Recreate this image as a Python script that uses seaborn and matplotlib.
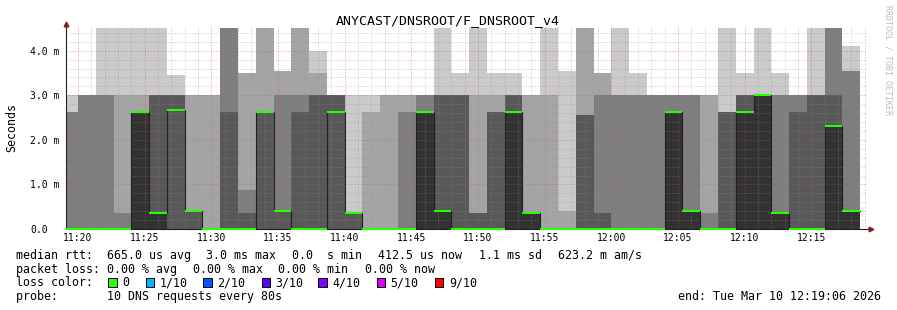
import numpy as np
import pandas as pd
import matplotlib
matplotlib.use("Agg")
import matplotlib.pyplot as plt
import seaborn as sns
from matplotlib.patches import Rectangle

# ---------------- data ----------------
# 80 s RRD bins (bin start times); first bin starts 11:18:40, last ends 12:18:40
bin_start = pd.date_range("2026-03-10 11:18:40", periods=45, freq="80s")

# ten sorted DNS response times per bin, in ms (rank 1 = fastest)
ping1 = [0, 0, 0, 0, 0, 0, 0, 0, 0, 0, 0, 0, 0, 0, 0, 0, 0, 0, 0, 0, 0, 0, 0,
         0, 0, 0, 0, 0, 0, 0, 0, 0, 0, 0, 0, 0, 0, 0, 0, 0, 0, 0, 0, 0, 0]
ping2 = [0, 0, 0, 0, 0, 0, 0, 0, 0, 0, 0, 0, 0, 0, 0, 0, 0, 0, 0, 0, 0, 0, 0,
         0, 0, 0, 0, 0, 0, 0, 0, 0, 0, 0, 0, 0, 0, 0, 0, 0, 0, 0, 0, 0, 0]
ping3 = [0, 0, 0, 0, 0, 0, 0, 0, 0, 0, 0, 0, 0, 0, 0, 0, 0, 0, 0, 0, 0, 0, 0,
         0, 0, 0, 0, 0, 0, 0, 0, 0, 0, 0, 0, 0, 0, 0, 0, 0, 0, 0, 0, 0, 0]
ping4 = [0, 0, 0, 0, 0, 0, 0, 0, 0, 0, 0, 0, 0, 0, 0, 0, 0, 0, 0, 0, 0, 0, 0,
         0, 0, 0, 0, 0, 0, 0, 0, 0, 0, 0, 0, 0, 0, 0, 0, 0, 0, 0, 0, 0, 0]
ping5 = [0, 0, 0, 0, 0, 0, 2.66, 0.41, 0, 0,
         0, 2.62, 0.41, 0, 0, 2.62, 0.37, 0, 0, 0,
         0, 0, 0, 0, 0, 0, 0, 0, 0, 0,
         0, 0, 0, 0, 0, 0, 0, 0, 0, 0,
         0, 0, 0, 0, 0]
ping6 = [0, 0, 0, 0, 2.62, 0.37, 2.66, 0.41, 0, 0,
         0, 2.62, 0.41, 0, 0, 2.62, 0.37, 0, 0, 0,
         2.62, 0.41, 0, 0, 0, 2.62, 0.37, 0, 0, 0,
         0, 0, 0, 0, 2.62, 0.41, 0, 0, 2.62, 3.0,
         0.37, 0, 0, 2.32, 0.41]
ping7 = [0, 0, 0, 0, 2.62, 3.0, 3.0, 0.41, 0, 2.62,
         0.37, 2.62, 0.41, 2.62, 3.0, 3.0, 0.37, 0, 0, 0,
         2.62, 3.0, 3.0, 0.37, 2.62, 3.0, 0.37, 0, 0, 2.55,
         0.37, 0, 0, 0, 2.62, 0.41, 0, 2.62, 3.0, 3.0,
         0.37, 2.62, 3.0, 3.0, 0.41]
ping8 = [2.62, 3.0, 3.0, 0.37, 2.62, 3.0, 3.0, 0.41, 0, 4.5,
         0.87, 2.62, 3.0, 3.0, 3.0, 3.0, 0.37, 0, 0, 2.62,
         3.0, 3.0, 3.0, 0.37, 2.62, 3.0, 0.37, 0, 0, 2.55,
         3.0, 3.0, 3.0, 3.0, 3.0, 3.0, 0.37, 2.62, 3.0, 3.0,
         3.0, 3.0, 3.0, 4.5, 3.54]
ping9 = [2.62, 3.0, 3.0, 3.0, 3.0, 3.0, 3.0, 3.0, 3.0, 4.5,
         3.5, 4.5, 3.54, 4.5, 3.5, 3.0, 0.37, 2.62, 3.0, 3.0,
         3.0, 3.0, 3.0, 3.0, 3.0, 3.0, 3.0, 3.0, 0.41, 4.5,
         3.5, 3.0, 3.0, 3.0, 3.0, 3.0, 3.0, 2.62, 3.0, 3.0,
         3.0, 3.0, 3.0, 4.5, 3.54]
ping10 = [3.0, 3.0, 4.5, 4.5, 4.5, 4.5, 3.45, 3.0, 3.0, 4.5,
          3.5, 4.5, 3.54, 4.5, 4.0, 3.0, 3.0, 3.0, 3.0, 3.0,
          3.0, 4.5, 3.5, 4.5, 3.5, 3.5, 3.0, 4.5, 3.54, 4.5,
          3.5, 4.5, 3.5, 3.0, 3.0, 3.0, 3.0, 4.5, 3.5, 4.5,
          3.5, 3.0, 4.5, 4.5, 4.1]
median_rtt = ping6   # smokeping stores the upper median

x_tick_labels = ["11:20", "11:25", "11:30", "11:35", "11:40", "11:45",
                 "11:50", "11:55", "12:00", "12:05", "12:10", "12:15"]
y_tick_labels = ["0.0", "1.0 m", "2.0 m", "3.0 m", "4.0 m"]

loss_labels = ["0", "1/10", "2/10", "3/10", "4/10", "5/10", "9/10"]
loss_colors = ["#26ff00", "#00b8ff", "#0059ff", "#5e00ff", "#7e00ff", "#dd00ff", "#ff0000"]

# ---------------- style ----------------
sns.set_theme(style="white")
plt.rcParams["font.family"] = ["DejaVu Sans Mono", "DejaVu Sans"]

W, H = 897, 310
fig = plt.figure(figsize=(W / 100, H / 100), dpi=100)
fig.patch.set_facecolor("white")
X0, X1, YB, YT = 66, 866, 229, 26
ax = fig.add_axes([X0 / W, (H - YB) / H, (X1 - X0) / W, (YB - YT) / H])
ax.set_facecolor("white")


def secs(t):
    return t.hour * 3600 + t.minute * 60 + t.second


starts = np.array([secs(t) for t in bin_start], dtype=float)
edges = np.append(starts, starts[-1] + 80)
t_start = secs(pd.Timestamp("2026-03-10 11:19:06"))
t_end = secs(pd.Timestamp("2026-03-10 12:19:06"))

ymax = 4.555
ax.set_xlim(t_start, t_end)
ax.set_ylim(0, ymax)

pings = [ping1, ping2, ping3, ping4, ping5, ping6, ping7, ping8, ping9, ping10]
smoke_cols = ["#cacaca", "#a4a4a4", "#7e7e7e", "#585858", "#323232"]


def ext(a):
    a = np.asarray(a, dtype=float)
    return np.append(a, a[-1])


for k in range(5):
    lo = ext(pings[k])
    hi = ext(pings[9 - k])
    ax.fill_between(edges, lo, hi, step="post", color=smoke_cols[k],
                    linewidth=0, zorder=1 + k * 0.1)

# median line
med = ext(median_rtt)
sns.lineplot(x=edges, y=med, drawstyle="steps-post", color="#202020",
             linewidth=0.8, ax=ax, zorder=4, legend=False)
sw = ymax / 203.0
ax.fill_between(edges, med - sw, med + sw, step="post", color=loss_colors[0],
                linewidth=0, zorder=5)

# ticks and grid
ax.set_xticks(starts[1::1][::1][0:1].tolist() if False else
              [secs(pd.Timestamp("2026-03-10 " + s + ":00")) for s in x_tick_labels])
ax.set_xticklabels(x_tick_labels)
minor_x = [m for m in np.arange(secs(pd.Timestamp("2026-03-10 11:20:00")), t_end, 60)]
ax.set_xticks(minor_x, minor=True)
ax.set_yticks([0, 1, 2, 3, 4])
ax.set_yticklabels(y_tick_labels)
ax.set_yticks([v / 5 for v in range(1, 23)], minor=True)

ax.set_axisbelow(False)
ax.grid(which="minor", color=(0.56, 0.56, 0.56), alpha=0.55, linewidth=0.72,
        linestyle=(0, (1, 2)))
ax.grid(which="major", color=(0.87, 0.31, 0.31), alpha=0.6, linewidth=0.72,
        linestyle=(0, (1, 2)))

ax.tick_params(axis="both", which="major", length=2.2, width=0.72, color="#303030",
               labelsize=7, labelcolor="black", direction="out")
ax.tick_params(axis="both", which="minor", length=1.4, width=0.72, color="#303030",
               direction="out")
ax.tick_params(axis="x", which="major", pad=0.9)
ax.tick_params(axis="y", which="major", pad=(X0 - 30) * 0.72 - 2.2)
for lbl in ax.get_yticklabels():
    lbl.set_horizontalalignment("left")

for s in ["top", "right"]:
    ax.spines[s].set_visible(False)
for s in ["left", "bottom"]:
    ax.spines[s].set_color("#202020")
    ax.spines[s].set_linewidth(0.8)
ax.set_xlabel("")
ax.set_ylabel("")

# axis arrows
arrow_col = "#801f1f"
ax.plot([0, 0], [1.0, (YB - 23) / (YB - YT)], color="#202020", lw=0.8,
        transform=ax.transAxes, clip_on=False, zorder=6)
ax.plot([0], [(YB - 23.8) / (YB - YT)], marker="^", markersize=3.4, color=arrow_col,
        transform=ax.transAxes, clip_on=False, zorder=7)
ax.plot([1.0, (869 - X0) / (X1 - X0)], [0, 0], color="#202020", lw=0.8,
        transform=ax.transAxes, clip_on=False, zorder=6)
ax.plot([(871.3 - X0) / (X1 - X0)], [0], marker=">", markersize=3.4, color=arrow_col,
        transform=ax.transAxes, clip_on=False, zorder=7)


# ---------------- texts ----------------
def ftext(x, y, s, **kw):
    fig.text(x / W, 1 - y / H, s, **kw)


ftext(447.5, 24, "ANYCAST/DNSROOT/F_DNSROOT_v4", ha="center", va="baseline",
      fontsize=9.5, color="black")
ftext(11.5, 127.5, "Seconds", rotation=90, ha="center", va="center",
      fontsize=8.4, color="black")
ftext(887.5, 60, "RRDTOOL / TOBI OETIKER", rotation=270, ha="center", va="center",
      fontsize=6, color="#bdbdbd")

lf = 8.37
base = [259, 272.7, 286.4, 300]
line1 = [(15.8, "median rtt:  665.0 us avg"), (206, "3.0 ms max"), (292, "0.0  s min"),
         (378.5, "412.5 us now"), (478.5, "1.1 ms sd"), (557.5, "623.2 m am/s")]
for x, s in line1:
    ftext(x, base[0], s, ha="left", va="baseline", fontsize=lf, color="black")
line2 = [(15.8, "packet loss: 0.00 % avg"), (192.5, "0.00 % max"),
         (278.5, "0.00 % min"), (364.5, "0.00 % now")]
for x, s in line2:
    ftext(x, base[1], s, ha="left", va="baseline", fontsize=lf, color="black")

ftext(15.8, base[2], "loss color:", ha="left", va="baseline", fontsize=lf, color="black")
box_x = [108.3, 146, 203.3, 261.7, 318.3, 377, 435]
text_x = [122.3, 159.5, 217.5, 275.5, 332.5, 390, 449]
for bx, tx, lab, col in zip(box_x, text_x, loss_labels, loss_colors):
    fig.patches.append(Rectangle((bx / W, 1 - 286.8 / H), 8.4 / W, 8.4 / H,
                                 transform=fig.transFigure, facecolor=col,
                                 edgecolor="black", linewidth=0.7))
    ftext(tx, base[2], lab, ha="left", va="baseline", fontsize=lf, color="black")

ftext(15.8, base[3], "probe:       10 DNS requests every 80s", ha="left", va="baseline",
      fontsize=lf, color="black")
ftext(677.5, base[3], "end: Tue Mar 10 12:19:06 2026", ha="left", va="baseline",
      fontsize=lf, color="black")

fig.savefig("out.png", dpi=100)
